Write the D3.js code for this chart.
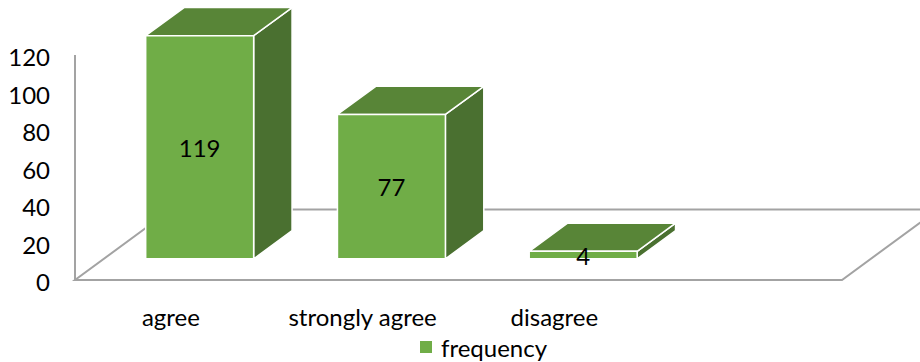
<!DOCTYPE html>
<html>
<head>
<meta charset="utf-8">
<script src="https://cdn.jsdelivr.net/npm/d3@7"></script>
<style>
  html, body { margin: 0; padding: 0; background: #fff; }
  svg text { font-family: Lato, "Open Sans", sans-serif; fill: #000; }
</style>
</head>
<body>
<svg id="chart" width="920" height="362"></svg>
<script>
// Survey answers and how many respondents chose each one
const categories = ["agree", "strongly agree", "disagree", ""];
const frequency = [119, 77, 4, null];
const yTicks = [0, 20, 40, 60, 80, 100, 120];
const seriesName = "frequency";

const svg = d3.select("#chart");

const colors = { front: "#70ad47", top: "#588537", side: "#4a7030", floor: "#a3a3a3" };

// Front edge of the floor and the value axis
const x = d3.scaleBand().domain(categories).range([75, 842]);
const y = d3.scaleLinear().domain([0, 120]).range([280, 55]);

// Oblique depth of the floor and of each column
const depth = { dx: 96, dy: -70.5 };
const barDepthFrac = 0.4;
const barGapFrac = (1 - barDepthFrac) / 2;
const barWidth = x.bandwidth() * 0.563;

// Floor outline
const fx0 = x.range()[0], fx1 = x.range()[1], fy = y(0);
svg.append("path")
  .attr("d", `M${fx0},${fy} L${fx1},${fy} L${fx1 + depth.dx},${fy + depth.dy} L${fx0 + depth.dx},${fy + depth.dy} Z`)
  .attr("fill", "none")
  .attr("stroke", colors.floor)
  .attr("stroke-width", 2);

// Vertical axis line at the front-left corner
svg.append("line")
  .attr("x1", fx0).attr("x2", fx0)
  .attr("y1", y(120)).attr("y2", y(0))
  .attr("stroke", colors.floor)
  .attr("stroke-width", 2);

// Tick labels
svg.append("g").selectAll("text")
  .data(yTicks)
  .join("text")
  .attr("x", 50)
  .attr("y", d => y(d) + 1.5)
  .attr("text-anchor", "end")
  .attr("dominant-baseline", "central")
  .attr("font-size", 24)
  .text(d => d);

// Columns drawn as three visible faces
const bars = categories.map((c, i) => ({ c, v: frequency[i] })).filter(d => d.v != null);
const ox = depth.dx * barGapFrac, oy = depth.dy * barGapFrac;
const bdx = depth.dx * barDepthFrac, bdy = depth.dy * barDepthFrac;

const g = svg.append("g");
bars.forEach(d => {
  const x0 = x(d.c) + (x.bandwidth() - barWidth) / 2 + ox;
  const x1 = x0 + barWidth;
  const yb = y(0) + oy;
  const yt = y(d.v) + oy;
  const bar = g.append("g").attr("stroke", "#fff").attr("stroke-width", 1.5).attr("stroke-linejoin", "round");
  bar.append("path")
    .attr("d", `M${x1},${yt} L${x1 + bdx},${yt + bdy} L${x1 + bdx},${yb + bdy} L${x1},${yb} Z`)
    .attr("fill", colors.side);
  bar.append("path")
    .attr("d", `M${x0},${yt} L${x0 + bdx},${yt + bdy} L${x1 + bdx},${yt + bdy} L${x1},${yt} Z`)
    .attr("fill", colors.top);
  bar.append("rect")
    .attr("x", x0).attr("y", yt)
    .attr("width", barWidth).attr("height", yb - yt)
    .attr("fill", colors.front);
  g.append("text")
    .attr("x", (x0 + x1) / 2)
    .attr("y", (yt + yb) / 2)
    .attr("text-anchor", "middle")
    .attr("dominant-baseline", "central")
    .attr("font-size", 24)
    .text(d.v);
});

// Category labels under the floor
svg.append("g").selectAll("text")
  .data(categories)
  .join("text")
  .attr("x", d => x(d) + x.bandwidth() / 2)
  .attr("y", 316)
  .attr("text-anchor", "middle")
  .attr("dominant-baseline", "central")
  .attr("font-size", 24)
  .text(d => d);

// Legend
const legend = svg.append("g");
legend.append("rect")
  .attr("x", 420).attr("y", 341).attr("width", 12).attr("height", 12)
  .attr("fill", colors.front);
legend.append("text")
  .attr("x", 441).attr("y", 347)
  .attr("dominant-baseline", "central")
  .attr("font-size", 24)
  .text(seriesName);
</script>
</body>
</html>
